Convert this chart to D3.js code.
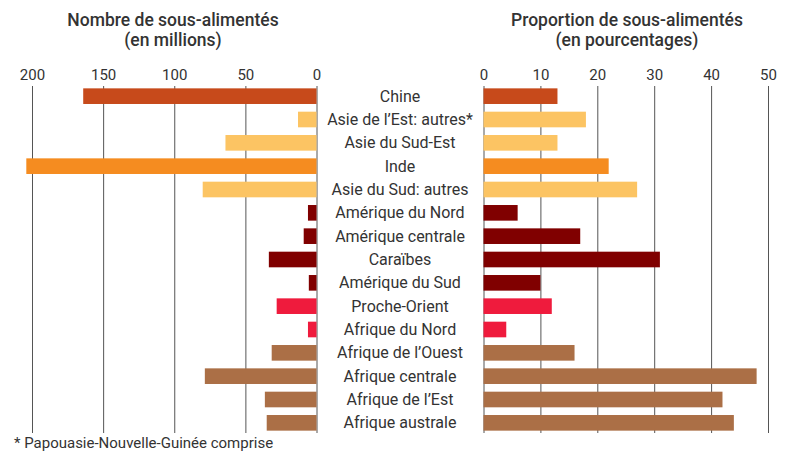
<!DOCTYPE html>
<html>
<head>
<meta charset="utf-8">
<script src="https://cdn.jsdelivr.net/npm/d3@7"></script>
<style>
  body { margin: 0; background: #fff; }
  text { font-family: Roboto, "DejaVu Sans Condensed", sans-serif; fill: #333; }
</style>
</head>
<body>
<svg id="chart" width="801" height="456"></svg>
<script>
// regions, top to bottom
var regions = ["Chine", "Asie de l\u2019Est: autres*", "Asie du Sud-Est", "Inde", "Asie du Sud: autres",
  "Am\u00e9rique du Nord", "Am\u00e9rique centrale", "Cara\u00efbes", "Am\u00e9rique du Sud", "Proche-Orient",
  "Afrique du Nord", "Afrique de l\u2019Ouest", "Afrique centrale", "Afrique de l\u2019Est", "Afrique australe"];

// number of undernourished (millions)
var nombre = [164, 13, 64, 204, 80, 6, 9, 33.5, 5.4, 28, 6, 31.5, 78.5, 36.3, 35];
// share of undernourished (%)
var proportion = [13, 18, 13, 22, 27, 6, 17, 31, 10, 12, 4, 16, 48, 42, 44];

var groupes = ["chine", "asie", "asie", "inde", "asie", "amerique", "amerique", "amerique", "amerique",
  "orient", "orient", "afrique", "afrique", "afrique", "afrique"];

var ticksNombre = [200, 150, 100, 50, 0];
var ticksProportion = [0, 10, 20, 30, 40, 50];

var couleurs = d3.scaleOrdinal()
  .domain(["chine", "asie", "inde", "amerique", "orient", "afrique"])
  .range(["#c74a1b", "#fcc463", "#f58c20", "#800000", "#ef1b3d", "#ab6f46"]);

var svg = d3.select("#chart");

var y = d3.scaleBand().domain(regions).range([84.5, 434.5]).paddingInner(0.33).paddingOuter(0.165);

var xL = d3.scaleLinear().domain([0, 200]).range([316.5, 32]);
var xR = d3.scaleLinear().domain([0, 50]).range([483.5, 768]);

// axes on top, ticks drawn as gridlines
function grille(g, scale, ticks) {
  g.call(d3.axisTop(scale).tickValues(ticks).tickSize(0).tickPadding(0).tickFormat(d3.format("d")));
  g.select(".domain").remove();
  g.selectAll(".tick line")
    .attr("y1", 86 - 84).attr("y2", 433 - 84)
    .attr("stroke", "#555").attr("stroke-width", 1);
  g.selectAll(".tick text")
    .attr("y", -4)
    .style("font-size", "15px").attr("fill", "#333");
}

svg.append("g").attr("transform", "translate(0,84)").call(grille, xL, ticksNombre);
svg.append("g").attr("transform", "translate(0,84)").call(grille, xR, ticksProportion);

// left bars
svg.append("g").selectAll("rect")
  .data(nombre)
  .join("rect")
  .attr("x", function(d) { return xL(d); })
  .attr("y", function(d, i) { return y(regions[i]); })
  .attr("width", function(d) { return xL(0) - xL(d); })
  .attr("height", y.bandwidth())
  .attr("fill", function(d, i) { return couleurs(groupes[i]); });

// right bars
svg.append("g").selectAll("rect")
  .data(proportion)
  .join("rect")
  .attr("x", xR(0))
  .attr("y", function(d, i) { return y(regions[i]); })
  .attr("width", function(d) { return xR(d) - xR(0); })
  .attr("height", y.bandwidth())
  .attr("fill", function(d, i) { return couleurs(groupes[i]); });

// region names in the middle
svg.append("g").selectAll("text")
  .data(regions)
  .join("text")
  .attr("x", 400)
  .attr("y", function(d) { return y(d) + y.bandwidth() / 2; })
  .attr("dy", "0.35em")
  .attr("text-anchor", "middle")
  .style("font-size", "16px")
  .text(function(d) { return d; });

// titles
var titres = [
  { x: 173, lignes: ["Nombre de sous-aliment\u00e9s", "(en millions)"] },
  { x: 627, lignes: ["Proportion de sous-aliment\u00e9s", "(en pourcentages)"] }
];
titres.forEach(function(t) {
  t.lignes.forEach(function(l, i) {
    svg.append("text")
      .attr("x", t.x).attr("y", 26 + i * 20)
      .attr("text-anchor", "middle")
      .style("font-size", "17.5px").style("font-weight", "500")
      .attr("fill", "#222")
      .text(l);
  });
});

svg.append("text")
  .attr("x", 14).attr("y", 448)
  .style("font-size", "15px")
  .text("* Papouasie-Nouvelle-Guin\u00e9e comprise");
</script>
</body>
</html>
